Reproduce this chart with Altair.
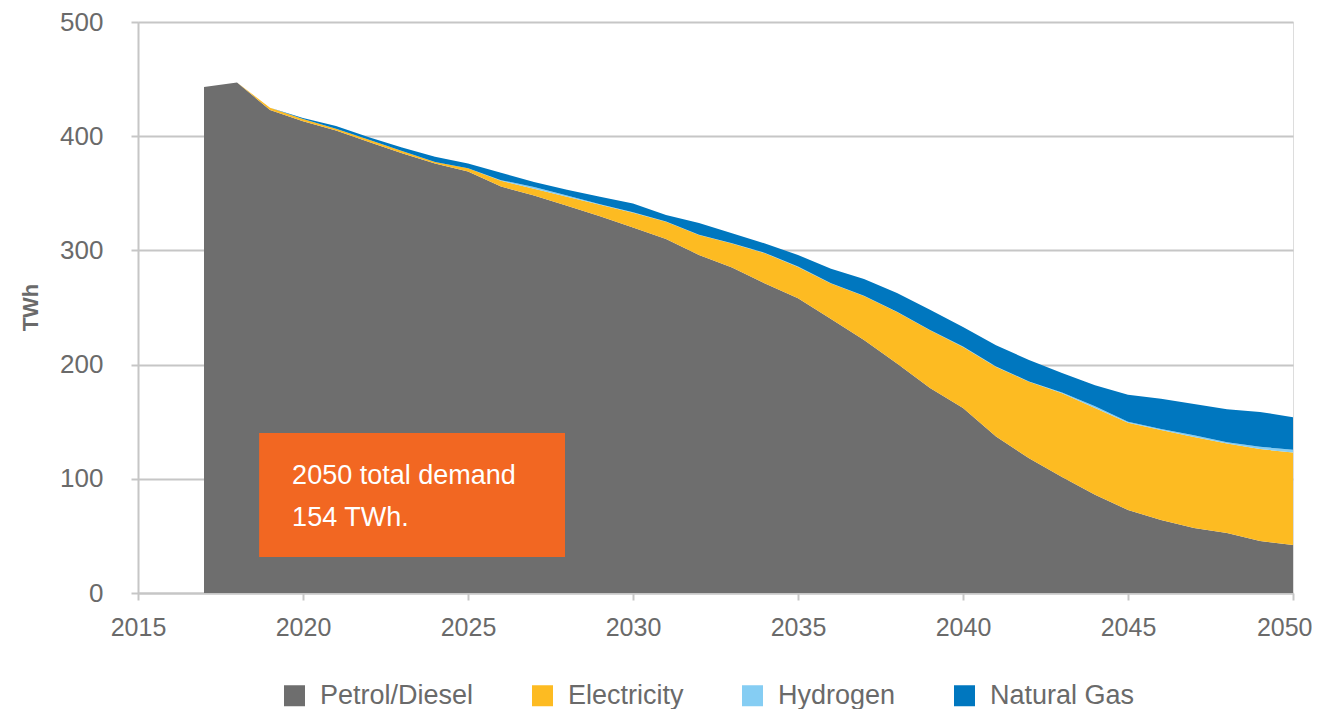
import altair as alt
import pandas as pd

years = list(range(2017, 2051))
petrol = [443, 447, 423, 413, 405, 395, 385, 376, 369, 356, 348, 339, 330, 320, 310, 296, 285,
          271, 258, 240, 221.5, 201, 179.5, 162, 137, 118, 101.6, 86, 72.7, 64, 57, 52.5, 45.5, 42]
electricity = [0, 0, 2, 2, 1.5, 2, 2, 1.5, 3, 5, 6, 8, 10, 13, 15, 17.5, 21, 26.5, 27.5, 31,
               38.5, 45, 50.5, 53.5, 61, 67, 73.4, 76, 76.3, 78.7, 79.6, 78.5, 80.5, 81]
hydrogen = [0, 0, 0, 0, 0, 0, 0, 0, 0, 0.5, 1.5, 1, 0.5, 0.3, 0.3, 0.3, 0.3, 0.3, 0.3, 0.3,
            0.3, 0.3, 0.3, 0.3, 0.3, 0.3, 0.5, 1.5, 1, 1, 1.5, 1, 2, 2.5]
natural_gas = [0, 0, 0, 1, 2.5, 2, 3, 4.5, 4, 6.5, 4.5, 5, 6.5, 7.7, 5.7, 10.2, 8.7, 8.2, 10.2,
               12.7, 14.7, 16.4, 17.7, 17.2, 18.7, 18.7, 17.1, 18.5, 23.5, 26.3, 27.4, 29, 30.5, 28.5]

series_names = ["Petrol/Diesel", "Electricity", "Hydrogen", "Natural Gas"]
series_colors = ["#6e6e6e", "#fdbb22", "#85cdf3", "#0077bf"]
x_ticks = [2015, 2020, 2025, 2030, 2035, 2040, 2045, 2050]
y_ticks = [0, 100, 200, 300, 400, 500]

# annotation box (data units)
box_x = [2018.67]
box_x2 = [2027.94]
box_y = [31.5]
box_y2 = [140]
note_lines = ["2050 total demand", "154 TWh."]
note_x = [2019.67, 2019.67]
note_y = [102.5, 66]

rows = []
for k, (name, vals) in enumerate(zip(series_names, [petrol, electricity, hydrogen, natural_gas])):
    for yr, v in zip(years, vals):
        rows.append({"year": yr, "value": v, "fuel": name, "order": k})
df = pd.DataFrame(rows)

FONT = "Liberation Sans"
GRAY = "#6a6a6a"
LINE = "#c6c6c6"

area = alt.Chart(df).mark_area(interpolate="linear").encode(
    x=alt.X("year:Q",
            scale=alt.Scale(domain=[2015, 2050], nice=False, zero=False),
            axis=alt.Axis(values=x_ticks, format="d", title=None, grid=False,
                          domainColor=LINE, domainWidth=2, tickColor=LINE, tickWidth=2,
                          tickSize=7, labelPadding=15, labelFontSize=25, labelColor=GRAY,
                          labelFont=FONT, labelFlush=False,
                          labelAlign={"expr": "datum.value == 2050 ? 'right' : 'center'"},
                          labelOffset={"expr": "datum.value == 2050 ? 19 : 0"})),
    y=alt.Y("value:Q", stack="zero",
            scale=alt.Scale(domain=[0, 500], nice=False),
            axis=alt.Axis(values=y_ticks, title="TWh", grid=True, gridColor=LINE, gridWidth=2,
                          domainColor=LINE, domainWidth=2, tickColor=LINE, tickWidth=2,
                          tickSize=7, labelPadding=28, labelFontSize=26, labelColor=GRAY,
                          labelFont=FONT, titleFont=FONT, titleFontSize=22, titleFontWeight="bold",
                          titleColor=GRAY, titleX=-96, titleY=285, titleAngle=270)),
    color=alt.Color("fuel:N",
                    scale=alt.Scale(domain=series_names, range=series_colors),
                    legend=alt.Legend(title=None, orient="none", direction="horizontal",
                                      legendX=143, legendY=660, symbolType="square",
                                      symbolSize=441, symbolStrokeWidth=0, labelFontSize=27,
                                      labelColor=GRAY, labelFont=FONT, labelOffset=12,
                                      columnPadding=55, labelLimit=400)),
    order=alt.Order("order:Q", sort="ascending"),
)

box_df = pd.DataFrame({"x": box_x, "x2": box_x2, "y": box_y, "y2": box_y2})
box = alt.Chart(box_df).mark_rect(color="#f26722").encode(
    x="x:Q", x2="x2:Q", y="y:Q", y2="y2:Q"
)

note_df = pd.DataFrame({"x": note_x, "y": note_y, "text": note_lines})
note = alt.Chart(note_df).mark_text(align="left", baseline="middle", color="white",
                                    fontSize=27, font=FONT).encode(
    x="x:Q", y="y:Q", text="text:N"
)

chart = alt.layer(area, box, note).properties(
    width=1155, height=571,
    autosize=alt.AutoSizeParams(type="none"),
    padding={"left": 130, "top": 14, "right": 19, "bottom": 116},
).configure_view(stroke=None).configure(font=FONT)

chart.save("out.html", embed_options={"renderer": "svg", "actions": False})
